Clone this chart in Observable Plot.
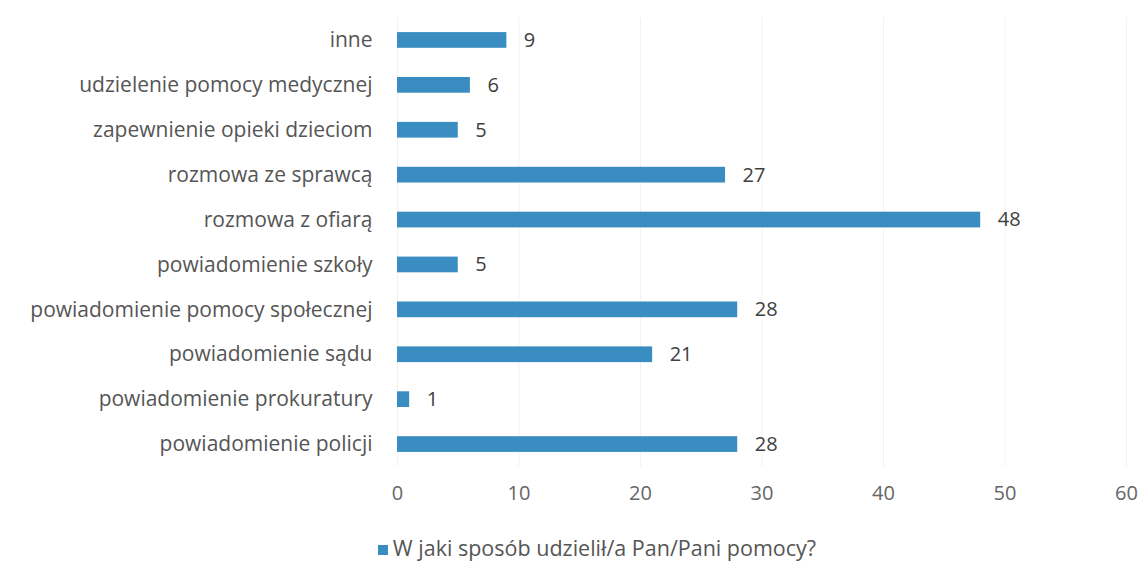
<!DOCTYPE html>
<html><head><meta charset="utf-8">
<script src="https://cdn.jsdelivr.net/npm/d3@7"></script>
<script src="https://cdn.jsdelivr.net/npm/@observablehq/plot@0.6"></script>
<style>
body{margin:0;background:#fff;font-family:"Open Sans",sans-serif;}
#legend{position:absolute;left:52px;top:533px;width:1090px;text-align:center;font-size:21.5px;color:#555;line-height:30px;}
#legend .sw{display:inline-block;width:10px;height:10px;background:#3a8dc0;margin-right:5px;vertical-align:1px;}
</style></head>
<body>
<div id="chart"></div>
<div id="legend"><span class="sw"></span>W jaki sposób udzielił/a Pan/Pani pomocy?</div>
<script>
const categories = ["inne","udzielenie pomocy medycznej","zapewnienie opieki dzieciom","rozmowa ze sprawcą","rozmowa z ofiarą","powiadomienie szkoły","powiadomienie pomocy społecznej","powiadomienie sądu","powiadomienie prokuratury","powiadomienie policji"];
const values = [9,6,5,27,48,5,28,21,1,28];
const xTicks = [0,10,20,30,40,50,60];
const data = categories.map((c,i)=>({cat:c, v:values[i]}));
const chart = Plot.plot({
  width:1142, height:525,
  marginLeft:397, marginRight:16, marginTop:17.5, marginBottom:58.5,
  style:{fontFamily:"Open Sans, sans-serif", fontSize:"20px", color:"#555", background:"#fff"},
  x:{domain:[0,60], ticks:xTicks, label:null},
  y:{domain:categories, paddingInner:0.65, paddingOuter:0.325, round:false, label:null},
  marks:[
    Plot.ruleX(xTicks, {stroke:"#f2f2f2"}),
    Plot.barX(data, {y:"cat", x:"v", fill:"#3a8dc0"}),
    Plot.text(data, {y:"cat", x:"v", text:d=>String(d.v), textAnchor:"start", dx:17, fill:"#404040", fontSize:20}),
    Plot.axisX({ticks:xTicks, tickSize:0, tickPadding:19, fontSize:20, color:"#666", label:null}),
    Plot.axisY({tickSize:0, tickPadding:25, fontSize:21, color:"#555", label:null})
  ]
});
document.getElementById("chart").append(chart);
</script>
</body></html>
